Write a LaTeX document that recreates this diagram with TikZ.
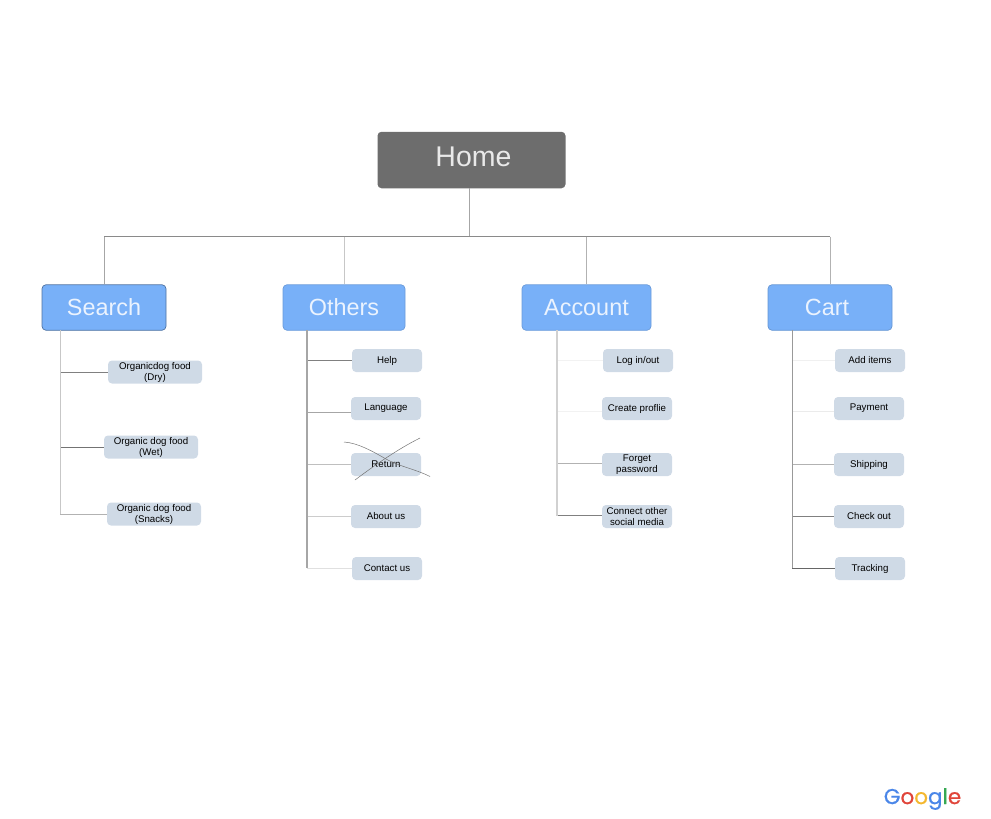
\documentclass[tikz,border=0pt]{standalone}
\usepackage{fontspec}
\setmainfont{Liberation Sans}
\newfontfamily\logofont[FakeBold=0.6]{Poppins}
\definecolor{homegrey}{HTML}{6D6D6D}
\definecolor{homeline}{HTML}{8A8A8A}
\definecolor{tabblue}{HTML}{78B0F8}
\definecolor{leafblue}{HTML}{CFDAE6}
\definecolor{gblue}{HTML}{4A86E8}
\definecolor{gred}{HTML}{E0453A}
\definecolor{gyellow}{HTML}{F4B72E}
\definecolor{ggreen}{HTML}{36A853}
\tikzset{
  tabbox/.style={fill=tabblue, rounded corners=4pt, minimum height=45.5pt, inner sep=0pt,
    text=white!85!tabblue, font=\fontsize{23.4}{26}\selectfont},
  leafbox/.style={fill=leafblue, rounded corners=4pt, minimum height=23pt, inner sep=0pt,
    text=black, align=center, font=\fontsize{9.7}{11}\selectfont},
  busline/.style={draw=homeline, line width=.9pt},
  stemline/.style={draw=black!35, line width=.9pt},
}
\newcommand*{\OneLeaf}[7]{% #1 = trunk, #2 = name, #3/#4 = centre, #5 = branch level, #6 = tone, #7 = text
  \node [leafbox] (#2) at (#3,#4) {#7};
  \coordinate (#2 level) at (0,#5);
  \coordinate (#2 in) at (#2.west |- #2 level);
  \draw [draw=#6, line width=.8pt] (#1) |- (#2 in);
}

\begin{document}
\begin{tikzpicture}[x=1pt,y=-1pt]
    \useasboundingbox (0,0) rectangle (991,819);

    \node [fill=homegrey, rounded corners=4pt, minimum width=188pt, minimum height=56.5pt, inner sep=0pt,
      text=white!85!homegrey, font=\fontsize{28.5}{32}\selectfont] (home) at (471.5,160) {\hspace*{4pt}\raisebox{7.5pt}{Home}};

    \node [tabbox, draw=black!35!tabblue, line width=.7pt, minimum width=124pt] (search) at (104,307.5) {\raisebox{.8pt}{Search}};
    \node [tabbox, draw=black!12!tabblue, line width=.7pt, minimum width=122pt] (others) at (344,307.5) {\raisebox{.8pt}{Others}};
    \node [tabbox, draw=black!12!tabblue, line width=.7pt, minimum width=129pt] (account) at (586.5,307.5) {\raisebox{.8pt}{Account}};
    \node [tabbox, draw=black!15!tabblue, line width=.7pt, minimum width=124pt] (cart) at (830,307.5) {\hspace*{-6pt}\raisebox{.8pt}{Cart}};

    % home down to the bus
    \coordinate (homeout) at (469.5,188);
    \coordinate (bus) at (469.5,236.5);
    \draw [stemline] (homeout) -- (bus);
    \draw [busline] (search.north |- bus) -- (cart.north |- bus);
    \foreach \tab/\tone in {search/black!35, others/black!22, account/black!30, cart/black!30} {
      \draw [draw=\tone, line width=.9pt] (\tab.north |- bus) -- (\tab.north);
    }

    % trunks
    \coordinate (searchout) at (60.5,330);
    \coordinate (othersout) at (307,330);
    \coordinate (accountout) at (557,330);
    \coordinate (cartout) at (792.5,330);

    \begin{scope}[leafbox/.append style={minimum width=94pt}]
      \OneLeaf{searchout}{dry}{155}{372}{372}{black!50}{Organicdog food\\(Dry)}
      \OneLeaf{searchout}{wet}{151}{447}{447}{black!55}{Organic dog food\\(Wet)}
      \OneLeaf{searchout}{snacks}{154}{514}{514}{black!30}{Organic dog food\\(Snacks)}
    \end{scope}
    \begin{scope}[leafbox/.append style={minimum width=70pt}]
      \OneLeaf{othersout}{help}{387}{360.5}{360.5}{black!50}{Help}
      \OneLeaf{othersout}{language}{386}{408.5}{412}{black!35}{Language}
      \OneLeaf{othersout}{return}{386}{464.5}{464}{black!25}{Return}
      \OneLeaf{othersout}{about}{386}{516.5}{516}{black!20}{About us}
      \OneLeaf{othersout}{contact}{387}{568.5}{568}{black!12}{Contact us}

      \OneLeaf{accountout}{login}{638}{360.5}{360.5}{black!5}{Log in/out}
      \OneLeaf{accountout}{create}{637}{408.5}{411}{black!5}{Create proflie}
      \OneLeaf{accountout}{forget}{637}{464.5}{463.5}{black!30}{Forget\\password}
      \OneLeaf{accountout}{connect}{637}{516.5}{515.5}{black!50}{Connect other\\social media}

      \OneLeaf{cartout}{add}{870}{360.5}{360.5}{black!6}{Add items}
      \OneLeaf{cartout}{payment}{869}{408.5}{411.5}{black!8}{Payment}
      \OneLeaf{cartout}{shipping}{869}{464.5}{464}{black!30}{Shipping}
      \OneLeaf{cartout}{checkout}{869}{516.5}{516}{black!50}{Check out}
      \OneLeaf{cartout}{tracking}{870}{568.5}{568}{black!60}{Tracking}
    \end{scope}

    \draw [draw=black!22, line width=1pt] (searchout) -- (searchout |- snacks in);
    \draw [draw=black!35, line width=1.1pt] (othersout) -- (othersout |- contact in);
    \draw [draw=black!18, line width=1.3pt] (accountout) -- (accountout |- connect in);
    \draw [draw=black!40, line width=1pt] (cartout) -- (cartout |- tracking in);

    % crossing out
    \draw [draw=black!55, line width=.5pt] (344,442) .. controls (358,443) and (372,451) .. (386,459)
      .. controls (398,466) and (415,469) .. (430,476.5);
    \draw [draw=black!55, line width=.5pt] (355,480) .. controls (375,465) and (398,449) .. (420,438);

    \node [anchor=center, inner sep=0pt, font=\logofont\fontsize{21.5}{24}\selectfont] (google) at (922.5,799)
      {\textcolor{gblue}{G}\textcolor{gred}{o}\textcolor{gyellow}{o}\textcolor{gblue}{g}\textcolor{ggreen}{l}\textcolor{gred}{e}};
\end{tikzpicture}
\end{document}
